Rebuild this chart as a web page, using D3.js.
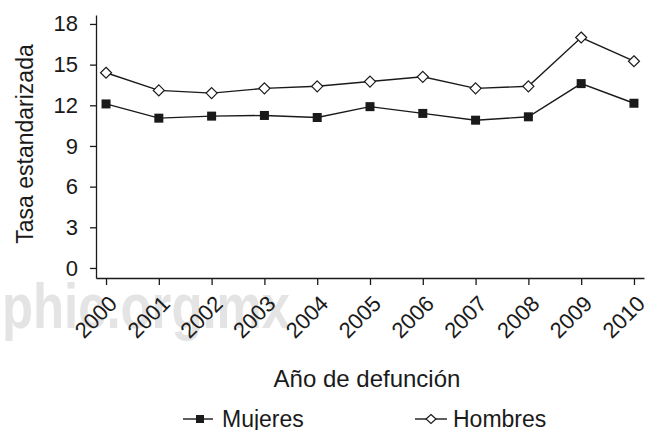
<!DOCTYPE html>
<html>
<head>
<meta charset="utf-8">
<script src="https://cdn.jsdelivr.net/npm/d3@7"></script>
<style>
  body { margin: 0; background: #fff; }
  text { font-family: "Liberation Sans", Arial, Helvetica, sans-serif; fill: #1a1a1a; }
</style>
</head>
<body>
<div class="chart"></div>
<script>
// data
const years = ["2000", "2001", "2002", "2003", "2004", "2005", "2006", "2007", "2008", "2009", "2010"];
const mujeres = [12.1, 11.05, 11.2, 11.25, 11.1, 11.9, 11.4, 10.9, 11.15, 13.6, 12.15];
const hombres = [14.4, 13.1, 12.9, 13.25, 13.4, 13.75, 14.1, 13.25, 13.4, 17.0, 15.25];
const yTicks = [0, 3, 6, 9, 12, 15, 18];

const W = 654, H = 430;

const svg = d3.select(".chart").append("svg")
    .attr("width", W)
    .attr("height", H);

// scales
const x = d3.scaleLinear().domain([-0.19, 10.19]).range([96, 644]);
const y = d3.scaleLinear().domain([-0.74, 18.66]).range([278, 15]);

// watermark behind everything
svg.append("text")
    .attr("x", 2)
    .attr("y", 328)
    .attr("textLength", 288)
    .attr("lengthAdjust", "spacingAndGlyphs")
    .style("font-size", "63px")
    .style("font-weight", "bold")
    .style("fill", "#e4e4e4")
    .text("phic.org.mx");

// Y axis
const yAxis = svg.append("g")
    .attr("transform", "translate(" + x.range()[0] + ",0)")
    .call(d3.axisLeft(y)
      .tickValues(yTicks)
      .tickSize(6)
      .tickSizeOuter(0)
      .tickPadding(12));
yAxis.selectAll("text").style("font-size", "22px");

// X axis
const xAxis = svg.append("g")
    .attr("transform", "translate(0," + y.range()[0] + ")")
    .call(d3.axisBottom(x)
      .tickValues(d3.range(years.length))
      .tickFormat(i => years[i])
      .tickSize(7)
      .tickSizeOuter(0));
xAxis.selectAll("text")
    .attr("x", 0).attr("y", 0).attr("dy", 0)
    .attr("text-anchor", "end")
    .attr("transform", "translate(12,27) rotate(-45)")
    .style("font-size", "22px");

svg.selectAll(".domain, .tick line")
    .attr("stroke", "#1a1a1a")
    .attr("stroke-width", 1.3);

// lines
const line = d3.line()
    .x((d, i) => x(i))
    .y(d => y(d));

svg.append("path")
    .datum(hombres)
    .attr("fill", "none")
    .attr("stroke", "#1a1a1a")
    .attr("stroke-width", 1.4)
    .attr("d", line);

svg.append("path")
    .datum(mujeres)
    .attr("fill", "none")
    .attr("stroke", "#1a1a1a")
    .attr("stroke-width", 1.4)
    .attr("d", line);

// markers
const diamond = "M0,-5.5L5.5,0L0,5.5L-5.5,0Z";

svg.selectAll(".sq")
    .data(mujeres)
    .enter().append("rect")
    .attr("class", "sq")
    .attr("x", (d, i) => x(i) - 4.5)
    .attr("y", d => y(d) - 4.5)
    .attr("width", 9)
    .attr("height", 9)
    .attr("fill", "#1a1a1a");

svg.selectAll(".dm")
    .data(hombres)
    .enter().append("path")
    .attr("class", "dm")
    .attr("transform", (d, i) => "translate(" + x(i) + "," + y(d) + ")")
    .attr("d", diamond)
    .attr("fill", "#fff")
    .attr("stroke", "#1a1a1a")
    .attr("stroke-width", 1.2);

// axis titles
svg.append("text")
    .attr("transform", "translate(33,144) rotate(-90)")
    .attr("text-anchor", "middle")
    .style("font-size", "23px")
    .text("Tasa estandarizada");

svg.append("text")
    .attr("x", 367)
    .attr("y", 387)
    .attr("text-anchor", "middle")
    .style("font-size", "24px")
    .text("Año de defunción");

// legend
const legend = svg.append("g").attr("transform", "translate(0,419)");

legend.append("line")
    .attr("x1", 183).attr("x2", 213)
    .attr("stroke", "#1a1a1a").attr("stroke-width", 1.4);
legend.append("rect")
    .attr("x", 196).attr("y", -4)
    .attr("width", 8).attr("height", 8)
    .attr("fill", "#1a1a1a");
legend.append("text")
    .attr("x", 222).attr("y", 8)
    .style("font-size", "23px")
    .text("Mujeres");

legend.append("line")
    .attr("x1", 415).attr("x2", 447)
    .attr("stroke", "#1a1a1a").attr("stroke-width", 1.4);
legend.append("path")
    .attr("transform", "translate(431,0)")
    .attr("d", "M0,-4.5L5,0L0,4.5L-5,0Z")
    .attr("fill", "#fff")
    .attr("stroke", "#1a1a1a")
    .attr("stroke-width", 1.2);
legend.append("text")
    .attr("x", 453).attr("y", 8)
    .style("font-size", "23px")
    .text("Hombres");
</script>
</body>
</html>
